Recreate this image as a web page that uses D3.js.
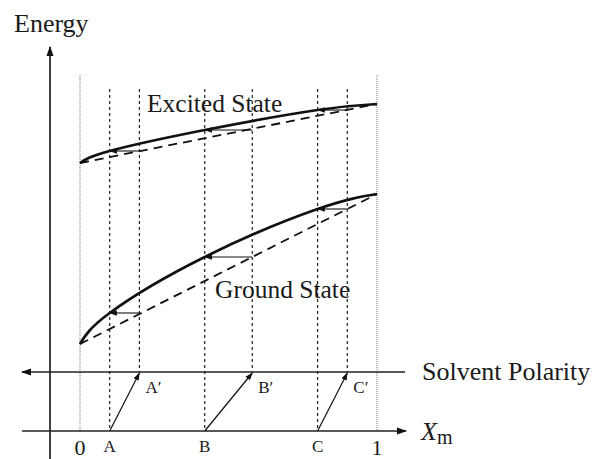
<!DOCTYPE html>
<html>
<head>
<meta charset="utf-8">
<script src="https://cdn.jsdelivr.net/npm/d3@7"></script>
<style>
  body { margin: 0; background: #fff; }
  text { font-family: "Liberation Serif", "DejaVu Serif", serif; fill: #1a1a1a; }
</style>
</head>
<body>
<script>
// mole fraction positions of the marked points (X_m)
var pointNames = ['A', 'B', 'C'];
var pointX = [0.1, 0.42, 0.8];
var shiftedX = [0.2, 0.58, 0.9];

// energy along X_m (arbitrary units), solid curves
var curveX = [0, 0.1, 0.42, 0.8, 1];
var excited = [268, 280, 301, 321, 327];
var ground = [87, 118, 174, 222, 237];

var width = 595, height = 459;

var svg = d3.select('body').append('svg')
    .attr('width', width)
    .attr('height', height);

var x = d3.scaleLinear().domain([0, 1]).range([80, 377]);
var y = d3.scaleLinear().domain([0, 384]).range([431, 47]);

var axisX = 50, polY = 372, xmY = y(0);

var defs = svg.append('defs');
function marker(id, size) {
  defs.append('marker')
      .attr('id', id)
      .attr('viewBox', '0 0 10 10')
      .attr('refX', 9).attr('refY', 5)
      .attr('markerWidth', size).attr('markerHeight', size)
      .attr('markerUnits', 'userSpaceOnUse')
      .attr('orient', 'auto')
    .append('path')
      .attr('d', 'M0,1.5L10,5L0,8.5Z')
      .attr('fill', '#111');
}
marker('big', 10);
marker('small', 8);

// grey dotted guides at X_m = 0 and 1
svg.selectAll('.guide')
  .data([0, 1])
  .enter().append('line')
    .attr('x1', function(d){ return x(d); })
    .attr('x2', function(d){ return x(d); })
    .attr('y1', 75).attr('y2', xmY)
    .attr('stroke', '#aaa')
    .attr('stroke-width', 1.6)
    .attr('stroke-dasharray', '1,1');

// dashed verticals A, B, C (to X_m axis) and A', B', C' (to polarity axis)
svg.selectAll('.vA')
  .data(pointX)
  .enter().append('line')
    .attr('x1', function(d){ return x(d); })
    .attr('x2', function(d){ return x(d); })
    .attr('y1', 89).attr('y2', xmY)
    .attr('stroke', '#222').attr('stroke-width', 1.2)
    .attr('stroke-dasharray', '3,3');
svg.selectAll('.vB')
  .data(shiftedX)
  .enter().append('line')
    .attr('x1', function(d){ return x(d); })
    .attr('x2', function(d){ return x(d); })
    .attr('y1', 89).attr('y2', polY)
    .attr('stroke', '#222').attr('stroke-width', 1.2)
    .attr('stroke-dasharray', '3,3');

// axes
svg.append('line')
    .attr('x1', axisX).attr('x2', axisX)
    .attr('y1', height).attr('y2', 47)
    .attr('stroke', '#222').attr('stroke-width', 1.7)
    .attr('marker-end', 'url(#big)');
svg.append('line')
    .attr('x1', 405).attr('x2', 22)
    .attr('y1', polY).attr('y2', polY)
    .attr('stroke', '#222').attr('stroke-width', 1.7)
    .attr('marker-end', 'url(#big)');
svg.append('line')
    .attr('x1', 22).attr('x2', 406)
    .attr('y1', xmY).attr('y2', xmY)
    .attr('stroke', '#222').attr('stroke-width', 1.7)
    .attr('marker-end', 'url(#big)');

// state curves
var line = d3.line()
    .x(function(d){ return x(d[0]); })
    .y(function(d){ return y(d[1]); })
    .curve(d3.curveNatural);

[excited, ground].forEach(function(vals) {
  var pts = curveX.map(function(d, i){ return [d, vals[i]]; });
  svg.append('path')
      .attr('d', line(pts))
      .attr('fill', 'none')
      .attr('stroke', '#111')
      .attr('stroke-width', 2.7);
  // straight dashed reference line between the end points
  svg.append('path')
      .attr('d', d3.line()
          .x(function(d){ return x(d[0]); })
          .y(function(d){ return y(d[1]); })([pts[0], pts[pts.length - 1]]))
      .attr('fill', 'none')
      .attr('stroke', '#111')
      .attr('stroke-width', 1.8)
      .attr('stroke-dasharray', '9,6');
  // horizontal arrows: shifted point on dashed line -> point on curve
  pointX.forEach(function(px, i) {
    var e = vals[curveX.indexOf(px)];
    svg.append('line')
        .attr('x1', x(shiftedX[i])).attr('x2', x(px))
        .attr('y1', y(e)).attr('y2', y(e))
        .attr('stroke', '#111').attr('stroke-width', 1.1)
        .attr('marker-end', 'url(#small)');
  });
});

// oblique arrows on the axes
svg.selectAll('.oblique')
  .data(pointX)
  .enter().append('line')
    .attr('x1', function(d){ return x(d); })
    .attr('y1', xmY)
    .attr('x2', function(d, i){ return x(shiftedX[i]); })
    .attr('y2', polY + 1)
    .attr('stroke', '#111').attr('stroke-width', 1.2)
    .attr('marker-end', 'url(#small)');

// labels
svg.append('text').attr('x', 14).attr('y', 32).attr('font-size', 26).text('Energy');
svg.append('text').attr('x', 147).attr('y', 112).attr('font-size', 25.5).text('Excited State');
svg.append('text').attr('x', 215).attr('y', 298).attr('font-size', 25.5).text('Ground State');
svg.append('text').attr('x', 422).attr('y', 380).attr('font-size', 26).text('Solvent Polarity');

var xm = svg.append('text').attr('x', 421).attr('y', 440).attr('font-size', 26);
xm.append('tspan').attr('font-style', 'italic').text('X');
xm.append('tspan').attr('dy', 4).attr('font-size', 20).text('m');

svg.selectAll('.tick')
  .data([0, 1])
  .enter().append('text')
    .attr('x', function(d){ return x(d); })
    .attr('y', 455)
    .attr('text-anchor', 'middle')
    .attr('font-size', 22)
    .text(function(d){ return d; });

svg.selectAll('.pname')
  .data(pointNames)
  .enter().append('text')
    .attr('x', function(d, i){ return x(pointX[i]); })
    .attr('y', 452)
    .attr('text-anchor', 'middle')
    .attr('font-size', 17)
    .text(function(d){ return d; });

svg.selectAll('.sname')
  .data(pointNames)
  .enter().append('text')
    .attr('x', function(d, i){ return x(shiftedX[i]) + 6; })
    .attr('y', 393)
    .attr('font-size', 17)
    .text(function(d){ return d + '\u2032'; });
</script>
</body>
</html>
